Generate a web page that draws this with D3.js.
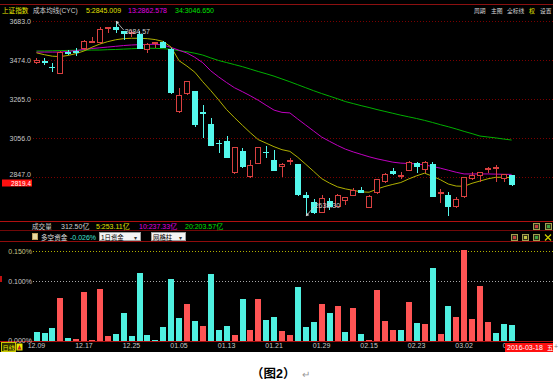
<!DOCTYPE html>
<html><head><meta charset="utf-8">
<script src="https://cdn.jsdelivr.net/npm/d3@7"></script>
<style>
html,body{margin:0;padding:0;background:#fff;}
svg{display:block;}
text{font-family:"Liberation Sans","Noto Sans CJK SC",sans-serif;}
</style></head><body><svg id="c" width="560" height="387"></svg>
<script>
// ---------- DATA ----------
const dates = ["12.09","12.10","12.11","12.14","12.15","12.16","12.17","12.18","12.21","12.22","12.23","12.24","12.25","12.28","12.29","12.30","12.31",
"01.04","01.05","01.06","01.07","01.08","01.11","01.12","01.13","01.14","01.15","01.18","01.19","01.20","01.21","01.22","01.25","01.26","01.27","01.28","01.29",
"02.01","02.02","02.03","02.04","02.05","02.15","02.16","02.17","02.18","02.19","02.22","02.23","02.24","02.25","02.26","02.29",
"03.01","03.02","03.03","03.04","03.07","03.08","03.09","03.10"];
const tickDates = ["12.09","12.17","12.25","01.05","01.13","01.21","01.29","02.15","02.23","03.02","03.10"];
const opens = [3461,3470,3440,3403,3516,3525,3535,3574,3567,3645,
3653,3630,3614,3613,3528,3567,3570,3536.6,3196.7,3291.2,
3309.7,3194.6,3131.9,3030,3043,2868,2988.9,2848,2919,2985,
2940,2900,2930,2916,2751,2713,2656,2720,2688,2720,
2749,2780,2684,2761,2824,2880,2852,2880,2925,2885,
2916,2758,2754,2686,2741,2838,2853,2884,2894,2840,2860];
const highs = [3486,3485,3459,3524,3530,3538,3583,3600,3653,3652,
3684.57,3631,3638,3630,3566,3573,3580,3538.7,3328.1,3362,
3309.7,3235.4,3166.2,3047,3068,3011,3006.5,2940,3008.1,3017,
2993,2924,2951,2916,2768,2730,2752,2734,2756,2742,
2792,2796,2751,2838,2868,2898,2875,2933,2929,2932,
2927,2786,2767,2740,2849.7,2874,2877,2904,2911,2867,2862];
const lows = [3453,3448,3411,3398,3500,3499,3530,3566,3561,3622,
3621,3583,3601,3532,3515,3538,3538,3295.7,3189.6,3288.9,
3115.9,3056.9,3016.7,2977,2949.6,2867,2896.1,2844.7,2918,2950,
2880,2851,2912,2745,2638.3,2653,2656,2671,2688,2698,
2745,2761,2682,2757,2815,2861,2840,2879,2872,2868,
2740,2709,2638.96,2683,2737,2830,2820,2870,2821,2822,2801];
const closes = [3476,3458,3435,3520.7,3510.4,3511,3580,3579,3642.5,3651.8,
3636.1,3612.5,3627.9,3533.8,3563.7,3572.9,3539.2,3296.3,3287.7,3361.8,
3125,3186.4,3016.7,3022.9,2949.6,3007.7,2901,2913.8,3007.7,2976.7,
2880.5,2916.6,2938.5,2749.8,2735.6,2655.7,2737.6,2688.9,2749.6,2739.3,
2781,2763.5,2746.2,2836.6,2867.3,2862.9,2860,2927.2,2903.3,2928.9,
2741.3,2767.2,2688,2733.2,2849.7,2859.5,2874.2,2897.3,2901.4,2862.6,2804.7];
const cyc5 = [3514,3504,3496,3494,3500,3510,3524,3544,3561,3574,
3584,3590,3592,3592,3590,3585,3575,3545,3472,3443,
3410,3359,3312,3262,3210,3167,3126,3086,3049,3030,
3011,2995,2986,2954,2917,2879,2840,2816,2796,2785,
2777,2769,2767,2784,2798,2809,2819,2838,2855,2869,
2853,2834,2811,2800,2799,2815,2827,2839,2847,2847,2845.0];
const cyc13 = [3518,3518,3518,3518,3522,3526,3532,3537,3541,3545,
3549,3553,3556,3558,3559,3560,3556,3543,3528,3513,
3490,3461,3418,3385,3355,3327,3306,3284,3260,3233,
3207,3195,3192,3159,3127,3095,3063,3040,3018,2998,
2983,2970,2957,2946,2937,2928,2923,2921,2919,2913,
2905,2896,2885,2874,2865,2865,2865,2865,2864,2863,2862.6];
const cyc34 = [3524,3524,3525,3526,3527,3528,3528,3529,3529,3531,
3532,3534,3536,3538,3539,3538,3536,3533,3526,3520,
3512,3502,3487,3473,3462,3451,3440,3427,3414,3402,
3389,3374,3359,3343,3327,3311,3296,3282,3268,3253,
3242,3231,3221,3210,3200,3190,3180,3171,3162,3152,
3141,3129,3118,3106,3093,3081,3068,3063,3058,3052,3046.65];
// 多空资金 (%), positive = red, negative = cyan
const flow = [-0.014,-0.012,-0.021,0.072,-0.004,0.002,0.081,0.0005,0.086,0.007,
-0.011,-0.046,-0.007,-0.113,-0.0085,-0.0008,-0.022,-0.103,-0.037,0.062,
-0.032,0.025,-0.111,-0.0175,-0.024,0.0097,-0.069,0.0175,0.0695,-0.035,
-0.040,0.016,0.0085,-0.089,-0.023,-0.031,0.062,-0.046,0.057,-0.014,
0.055,-0.011,0.0008,0.084,0.032,0.017,-0.018,0.065,-0.029,0.028,
-0.122,0.011,-0.057,0.039,0.151,0.036,0.0915,0.0305,-0.013,-0.027,-0.026];
const priceTicks = [3683,3474,3265,3056,2847];
const flowTicks = [0.15,0.10,0.0];
const cycLabels = ["5:2845.009","13:2862.578","34:3046.650"];
const volLabels = ["5:253.11亿","10:237.33亿","20:203.57亿"];

// ---------- DRAW ----------
const svg = d3.select("#c");
const PW = 553, PH = 352;
const RED = "#ff5454", CYAN = "#4ff0e0", CANDLE_RED = "#d84040", CANDLE_CY = "#54f8ec";
svg.append("rect").attr("width",PW).attr("height",PH).attr("fill","#000");

const x = d3.scaleBand().domain(dates).range([32.5,515.6]).paddingInner(0.28).paddingOuter(0.14);
const bw = x.bandwidth();
const cx = d => x(d) + bw/2;
const y = d3.scaleLinear().domain([2847,3683]).range([177.3,21.3]);
const yv = d3.scaleLinear().domain([0,0.15]).range([340.5,251]);

// frame lines
const hl = (yy,x1,x2,c,dash)=>svg.append("line").attr("x1",x1).attr("x2",x2).attr("y1",yy).attr("y2",yy)
  .attr("stroke",c).attr("stroke-width",1).attr("stroke-dasharray",dash||null).attr("shape-rendering","crispEdges");
hl(4.5,0,PW,"#8c1010");
hl(221.5,0,PW,"#b01010");
hl(230.5,0,PW,"#700808");
hl(241.5,0,PW,"#900c0c");
hl(341.5,0,PW,"#b01010");

// price grid
svg.append("g").selectAll("line").data(priceTicks).join("line")
  .attr("x1",33).attr("x2",PW).attr("y1",d=>Math.round(y(d))+0.5).attr("y2",d=>Math.round(y(d))+0.5)
  .attr("stroke","#7a0000").attr("stroke-dasharray","1,2").attr("shape-rendering","crispEdges");

// price axis
const ya = svg.append("g").attr("transform","translate(31,0)")
  .call(d3.axisLeft(y).tickValues(priceTicks).tickFormat(d3.format(".1f")).tickSize(0).tickPadding(0));
ya.select(".domain").remove();
ya.selectAll("text").attr("fill","#c8c8c8").attr("font-size",7).attr("font-family","Liberation Sans")
  .attr("dy",(d,k)=>k===priceTicks.length-1?"-0.05em":"0.32em");

// current price tag
svg.append("rect").attr("x",2).attr("y",179.5).attr("width",30).attr("height",7).attr("fill","#ff1010");
svg.append("text").attr("x",31).attr("y",185.5).attr("text-anchor","end").attr("font-size",6.5).attr("fill","#fff").text("2819.4");

// moving-average (CYC) lines
const line = d3.line().x((d,i)=>cx(dates[i])).y(d=>y(d));
[[cyc34,"#00b000"],[cyc13,"#c000c0"],[cyc5,"#b0b000"]].forEach(([arr,c])=>{
  svg.append("path").datum(arr).attr("d",line).attr("fill","none").attr("stroke",c).attr("stroke-width",1);
});

// candles
const cg = svg.append("g").attr("shape-rendering","crispEdges");
dates.forEach((d,i)=>{
  const o=opens[i], c=closes[i], h=highs[i], l=lows[i];
  const up = c >= o;
  const col = up ? CANDLE_RED : CANDLE_CY;
  const xm = Math.round(cx(d)) + 0.5;
  const top = Math.round(y(Math.max(o,c))), bot = Math.round(y(Math.min(o,c)));
  const hgt = Math.max(1, bot-top);
  if (up) {
    cg.append("line").attr("x1",xm).attr("x2",xm).attr("y1",y(h)).attr("y2",top).attr("stroke",col);
    cg.append("line").attr("x1",xm).attr("x2",xm).attr("y1",top+hgt).attr("y2",y(l)).attr("stroke",col);
    cg.append("rect").attr("x",Math.round(x(d))+0.5).attr("y",top+0.5).attr("width",Math.round(bw)-1).attr("height",Math.max(1,hgt-1))
      .attr("fill","#000").attr("stroke",col);
  } else {
    cg.append("line").attr("x1",xm).attr("x2",xm).attr("y1",y(h)).attr("y2",y(l)).attr("stroke",col);
    cg.append("rect").attr("x",Math.round(x(d))).attr("y",top).attr("width",Math.round(bw)).attr("height",hgt).attr("fill",col);
  }
});

// high / low markers
const hi = d3.maxIndex(highs), lo = d3.minIndex(lows);
const mk = (i,val,dx,dy,txt)=>{
  const px = cx(dates[i]), py = y(val);
  svg.append("line").attr("x1",px+1).attr("y1",py+Math.sign(dy)).attr("x2",px+dx).attr("y2",py+dy)
    .attr("stroke","#d0d0d0").attr("stroke-width",0.8);
  const s = Math.sign(dy);
  svg.append("path").attr("d",`M${px},${py} l3.5,${s*1} l-2.5,${s*2.5} Z`).attr("fill","#d0d0d0");
  svg.append("text").attr("x",px+dx+1).attr("y",py+dy+(dy>0?4:1)).attr("font-size",7).attr("fill","#d0d0d0").text(txt);
};
mk(hi,highs[hi],8,9,"3684.57");
mk(lo,lows[lo],8,-9,"2638.30");

// title row
const T = (tx,ty,str,c,fs,anchor)=>svg.append("text").attr("x",tx).attr("y",ty).attr("font-size",fs||7).attr("fill",c)
  .attr("text-anchor",anchor||"start").text(str);
T(2,13,"上证指数","#e8e800",6.6);
T(33,13,"成本均线(CYC)","#d0d0d0",6.6);
T(86,13,cycLabels[0],"#e0e000");
T(128,13,cycLabels[1],"#e000e0");
T(175,13,cycLabels[2],"#00e000");
T(474,13,"周期","#d8d8d8",5.8);
T(491,13,"主图","#d8d8d8",5.8);
T(507,13,"全标线","#d8d8d8",5.8);
T(529,13,"权","#e8e800",5.8);
T(540,13,"设置","#d8d8d8",5.8);

// volume info row
T(32,229,"成交量","#d0d0d0",6.6);
T(61,229,"312.50亿","#d0d0d0");
T(96,229,volLabels[0],"#e0e000");
T(139,229,volLabels[1],"#e000e0");
T(185,229,volLabels[2],"#00e000");
// icons row 1
[[533,"#c04040"],[545,"#40a040"]].forEach(([ix,c])=>{
  svg.append("rect").attr("x",ix+0.5).attr("y",223.5).attr("width",6).attr("height",6).attr("fill","#303018").attr("stroke","#a0a050");
  svg.append("rect").attr("x",ix+2).attr("y",225).attr("width",3).attr("height",3).attr("fill",c);
});

// 多空资金 row
svg.append("rect").attr("x",32.5).attr("y",233.5).attr("width",5).attr("height",6).attr("fill","#e8d8a0").attr("stroke","#c0a060");
T(41,240,"多空资金","#e0e0e0",6.6);
T(70,240,"-0.026%","#40e0d0");
svg.append("rect").attr("x",99.5).attr("y",232.5).attr("width",41).attr("height",8).attr("fill","#f4f4f4").attr("stroke","#a0a0a0");
T(101,239.5,"1日资金","#000",6.4);
T(134,239.5,"▾","#333",6);
svg.append("rect").attr("x",151.5).attr("y",232.5).attr("width",34).attr("height",8).attr("fill","#f4f4f4").attr("stroke","#a0a0a0");
T(153,239.5,"网格柱","#000",6.4);
T(179,239.5,"▾","#333",6);
[[511,"#c04040"],[522,"#c0c040"],[533,"#40a040"]].forEach(([ix,c])=>{
  svg.append("rect").attr("x",ix+0.5).attr("y",234.5).attr("width",6).attr("height",6).attr("fill","#303018").attr("stroke","#a0a050");
  svg.append("rect").attr("x",ix+2).attr("y",236).attr("width",3).attr("height",3).attr("fill",c);
});
svg.append("path").attr("d","M545,234.5 L551,240.5 M551,234.5 L545,240.5").attr("stroke","#d0d000").attr("stroke-width",1.2);

// flow grid + axis
const fgc = ["#b0b000","#a8a8a8",null];
flowTicks.forEach((t,k)=>{ if(fgc[k]) svg.append("line").attr("x1",33).attr("x2",PW)
  .attr("y1",Math.round(yv(t))+0.5).attr("y2",Math.round(yv(t))+0.5).attr("stroke",fgc[k])
  .attr("stroke-dasharray","1,2").attr("shape-rendering","crispEdges"); });
const fa = svg.append("g").attr("transform","translate(32,0)")
  .call(d3.axisLeft(yv).tickValues(flowTicks).tickFormat(d=>d.toFixed(3)+"%").tickSize(0).tickPadding(0));
fa.select(".domain").remove();
fa.selectAll("text").attr("font-size",7).attr("fill",(d,k)=>k===0?"#c8c888":"#c8c8c8");
svg.append("rect").attr("x",0).attr("y",276).attr("width",2).attr("height",6).attr("fill","#c01010");

// flow bars
svg.append("g").attr("shape-rendering","crispEdges").selectAll("rect").data(flow).join("rect")
  .attr("x",(d,i)=>Math.round(x(dates[i]))).attr("width",Math.round(bw))
  .attr("y",d=>yv(Math.abs(d))).attr("height",d=>Math.max(0.6,yv(0)-yv(Math.abs(d))))
  .attr("fill",d=>d>=0?RED:CYAN);

// date axis (the last label is partly hidden behind the date tag, as in the source)
svg.append("clipPath").attr("id","dclip").append("rect").attr("x",0).attr("y",340).attr("width",505).attr("height",14);
const xwrap = svg.append("g").attr("clip-path","url(#dclip)");
const xa = xwrap.append("g").attr("transform","translate(0,343)")
  .call(d3.axisBottom(x).tickValues(tickDates).tickSize(0).tickPadding(0));
xa.select(".domain").remove();
xa.selectAll("text").attr("font-size",7).attr("fill","#c8c8c8");

// bottom-left widgets
svg.append("rect").attr("x",1.5).attr("y",342.5).attr("width",14).attr("height",9).attr("fill","#303000").attr("stroke","#c8c800");
T(2.5,350,"日线","#e8e800",6.2);
svg.append("rect").attr("x",16.5).attr("y",343.5).attr("width",6).attr("height",7).attr("fill","#e8e800");
svg.append("path").attr("d","M19.5,345 L21.5,349.5 L17.5,349.5 Z").attr("fill","#c02020");

// date tag
svg.append("rect").attr("x",505).attr("y",343).attr("width",48).attr("height",9).attr("fill","#ff1010");
T(507,350,"2016-03-18","#fff");
T(547,350,"五","#fff",6.2);
T(554,349,"+","#888",7);

// caption
svg.append("text").attr("x",251).attr("y",378).attr("font-size",12.5).attr("font-weight","bold")
  .attr("font-family","Noto Sans CJK SC").attr("fill","#000").text("（图2）");
svg.append("text").attr("x",302).attr("y",378).attr("font-size",10).attr("font-family","DejaVu Sans").attr("fill","#999").text("↵");
</script></body></html>
